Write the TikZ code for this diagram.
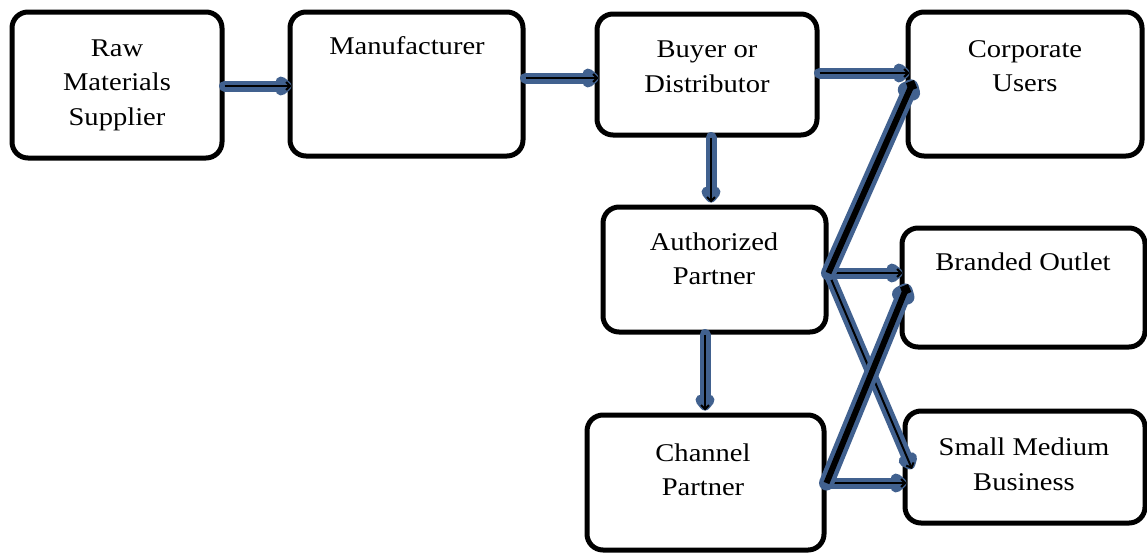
\documentclass[tikz,border=0pt]{standalone}
\usepackage{fontspec}
\setmainfont{Liberation Serif}[FakeStretch=1.12]
\usetikzlibrary{arrows.meta}
\definecolor{arrowblue}{HTML}{41618F}
\tikzset{
  box/.style={draw=black, line width=5pt, rounded corners=16pt, fill=white, inner sep=0pt},
  lbl/.style={align=center, inner sep=0pt, font=\fontsize{25.5}{34.5}\selectfont},
  flow/.style={
    draw=arrowblue, line width=11pt, line cap=round, line join=round,
    -{Straight Barb[round,length=5pt,width=8pt]},
    postaction={draw=black, line width=2pt, line cap=butt,
                -{Straight Barb[length=4pt,width=8pt]}}},
  boldflow/.style={
    draw=arrowblue, line width=15pt, line cap=round, line join=round,
    -{Straight Barb[round,length=5pt,width=8pt]},
    postaction={draw=black, line width=6pt, line cap=butt,
                -{Straight Barb[length=4pt,width=8pt]}}}
}
\begin{document}
\begin{tikzpicture}[x=1pt, y=-1pt]
\useasboundingbox (0,0) rectangle (1147,552);

% boxes
\node[box, minimum width=210pt, minimum height=146pt] (raw)   at (117,85)    {};
\node[box, minimum width=233pt, minimum height=144pt] (manu)  at (406.5,84)  {};
\node[box, minimum width=220pt, minimum height=121pt] (buyer) at (707,74.5)  {};
\node[box, minimum width=234pt, minimum height=144pt] (corp)  at (1025,84)   {};
\node[box, minimum width=223pt, minimum height=125pt] (auth)  at (714.5,269.5){};
\node[box, minimum width=243pt, minimum height=119pt] (brand) at (1023.5,287.5){};
\node[box, minimum width=237pt, minimum height=135pt] (chan)  at (705.5,482.5){};
\node[box, minimum width=240pt, minimum height=112pt] (smb)   at (1025,467)  {};

% labels
\node[lbl] (rawt)   at (117,85)    {Raw\\Materials\\Supplier};
\node[lbl] (manut)  at (407,46)    {Manufacturer};
\node[lbl] (buyert) at (707,67)    {Buyer or\\Distributor};
\node[lbl] (corpt)  at (1025,66)   {Corporate\\Users};
\node[lbl] (autht)  at (714,259)   {Authorized\\Partner};
\node[lbl] (brandt) at (1023,262)  {Branded Outlet};
\node[lbl] (chant)  at (703,470)   {Channel\\Partner};
\node[lbl] (smbt)   at (1024,464.5){Small Medium\\Business};

% connection points
\coordinate (authout) at (auth.east |- 0,273);
\coordinate (chanout) at (chan.east |- 0,483);
\coordinate (corpin)  at (914,80);
\coordinate (brandin) at (908,284);
\coordinate (smbin)   at (912,469);

% flows
\draw[flow] (raw.east |- 0,86) -- ([xshift=4pt]manu.west |- 0,86);
\draw[flow] (manu.east |- 0,78) -- ([xshift=4pt]buyer.west |- 0,78);
\draw[flow] (buyer.east |- 0,73) -- ([xshift=4pt]corp.west |- 0,73);
\draw[flow] (buyer.south -| 711,0) -- ([yshift=2pt]auth.north -| 711,0);
\draw[flow] (auth.south -| 705,0) -- ([yshift=2pt]chan.north -| 705,0);
\draw[flow] (authout) -- ([xshift=3pt]brand.west |- authout);
\draw[flow] (authout) -- (smbin);
\draw[flow] (chanout) -- ([xshift=4pt]smb.west |- chanout);
\draw[boldflow] (authout) -- (corpin);
\draw[boldflow] (chanout) -- (brandin);
\end{tikzpicture}
\end{document}
